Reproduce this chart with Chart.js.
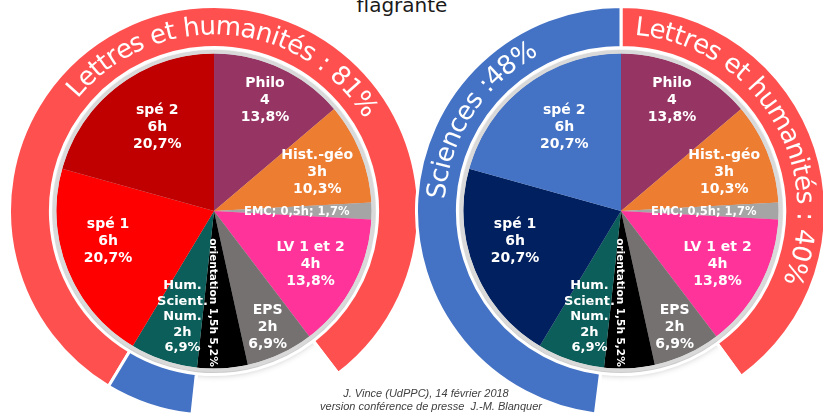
<!DOCTYPE html>
<html lang="fr">
<head>
<meta charset="utf-8">
<title>Répartition horaire – tronc commun et spécialités</title>
<script src="https://cdn.jsdelivr.net/npm/chart.js@4/dist/chart.umd.min.js"></script>
<style>
  html, body { margin: 0; padding: 0; background: #fff; }
  body { width: 823px; height: 414px; position: relative; overflow: hidden; font-family: "DejaVu Sans", Verdana, sans-serif; }
  canvas { position: absolute; }
  #pieLeft { left: 8px; top: 5px; }
  #pieRight { left: 415px; top: 5px; }
  .title { position: absolute; left: 2px; top: -5px; width: 800px; text-align: center; font-size: 20px; line-height: 20px; color: #1a1a1a; }
  .credit { position: absolute; width: 260px; text-align: center; font: italic 11px/14px "Liberation Sans", Arial, sans-serif; color: #404040; white-space: pre; }
</style>
</head>
<body>
<div class="title">flagrante</div>
<canvas id="pieLeft" width="412" height="412"></canvas>
<canvas id="pieRight" width="412" height="412"></canvas>
<div class="credit" style="left:296px; top:386px;">J. Vince (UdPPC), 14 février 2018</div>
<div class="credit" style="left:301px; top:399px;">version conférence de presse  J.-M. Blanquer</div>

<script>
// ---- data ----
const subjects = ['Philo', 'Hist.-géo', 'EMC', 'LV 1 et 2', 'EPS', 'orientation', 'Hum. Scient. Num.', 'spé 1', 'spé 2'];
const hours = [4, 3, 0.5, 4, 2, 1.5, 2, 6, 6];
const hourText = ['4', '3h', '0,5h', '4h', '2h', '1,5h', '2h', '6h', '6h'];

// outer rings: share of the week per family (the middle part is left blank)
const ringNames = ['Lettres et humanités', '', 'Sciences'];
const leftRingValues = [81, 12.1, 6.9];
const rightRingValues = [40, 12, 48];
const leftRingTexts = ['Lettres et humanités : 81%'];
const rightRingTexts = ['Lettres et humanités : 40%', 'Sciences :48%'];

// ---- colours ----
const RED_RING = '#FF5050';
const BLUE_RING = '#4472C4';
const commonColors = ['#963464', '#ED7D31', '#A5A5A5', '#FF3399', '#767171', '#000000', '#0B5E59'];
const leftPieColors = commonColors.concat(['#FF0000', '#C00000']);
const rightPieColors = commonColors.concat(['#002060', '#4472C4']);
const ringColors = [RED_RING, 'rgba(0,0,0,0)', BLUE_RING];

const totalHours = hours.reduce((a, b) => a + b, 0);
const FONT = '"DejaVu Sans", Verdana, sans-serif';

// where a slice label sits: fraction of the pie radius, angle nudge (deg)
const labelSpots = [
    { r: 0.77, da: 0 },
    { r: 0.70, da: 1 },
    { r: 0.525, da: 1, size: 11.5, layout: 'semicolon' },
    { r: 0.70, da: 1 },
    { r: 0.81, da: 0 },
    { r: 0.58, da: 4, size: 10.5, layout: 'inline', rotate: 90 },
    { r: 0.70, da: -2, size: 13, lh: 15.5, layout: 'split' },
    { r: 0.70, da: 5.5 },
    { r: 0.64, da: 3 }
];

function pctText(i) {
    return (hours[i] / totalHours * 100).toFixed(1).replace('.', ',') + '%';
}

function sliceLines(i, layout) {
    if (layout === 'semicolon') return [subjects[i] + '; ' + hourText[i] + '; ' + pctText(i)];
    if (layout === 'inline') return [subjects[i] + ' ' + hourText[i] + ' ' + pctText(i)];
    if (layout === 'split') return subjects[i].split(' ').concat([hourText[i], pctText(i)]);
    return [subjects[i], hourText[i], pctText(i)];
}

// degrees from the top where a given subject starts
function startOf(name) {
    const idx = subjects.indexOf(name);
    const before = hours.slice(0, idx).reduce((a, b) => a + b, 0);
    return before / totalHours * 360;
}

// soft shadow + grey rim behind the pie
const rimShadow = {
    id: 'rimShadow',
    beforeDatasetsDraw(chart) {
        const pie = chart.getDatasetMeta(3).data[0];
        const rim = chart.getDatasetMeta(2).data[0];
        const ctx = chart.ctx;
        ctx.save();
        ctx.shadowColor = 'rgba(0,0,0,0.28)';
        ctx.shadowBlur = 7;
        ctx.shadowOffsetY = 3;
        ctx.fillStyle = '#d9d9d9';
        ctx.beginPath();
        ctx.arc(pie.x, pie.y, rim.outerRadius, 0, Math.PI * 2);
        ctx.fill();
        ctx.restore();
    }
};

// white labels inside each slice
const sliceLabels = {
    id: 'sliceLabels',
    afterDatasetsDraw(chart) {
        const ctx = chart.ctx;
        const arcs = chart.getDatasetMeta(3).data;
        ctx.save();
        ctx.fillStyle = '#fff';
        ctx.textAlign = 'center';
        ctx.textBaseline = 'middle';
        arcs.forEach((arc, i) => {
            const spot = labelSpots[i];
            const size = spot.size || 14;
            const lh = spot.lh || 17;
            const mid = (arc.startAngle + arc.endAngle) / 2 + spot.da * Math.PI / 180;
            const x = arc.x + Math.cos(mid) * arc.outerRadius * spot.r;
            const y = arc.y + Math.sin(mid) * arc.outerRadius * spot.r;
            const lines = sliceLines(i, spot.layout);
            ctx.font = 'bold ' + size + 'px ' + FONT;
            ctx.save();
            ctx.translate(x, y);
            if (spot.rotate) ctx.rotate(spot.rotate * Math.PI / 180);
            lines.forEach((line, k) => {
                ctx.fillText(line, 0, (k - (lines.length - 1) / 2) * lh);
            });
            ctx.restore();
        });
        ctx.restore();
    }
};

// text bent along the outer ring
function ringText(texts, centers) {
    return {
        id: 'ringText',
        afterDatasetsDraw(chart) {
            const ctx = chart.ctx;
            const ring = chart.getDatasetMeta(0).data[0];
            const size = 26;
            const base = ring.innerRadius + 13;
            const rMid = base + size * 0.36;
            ctx.save();
            ctx.font = size + 'px ' + FONT;
            ctx.fillStyle = '#fff';
            ctx.textAlign = 'center';
            ctx.textBaseline = 'alphabetic';
            texts.forEach((text, t) => {
                const chars = Array.from(text);
                const total = ctx.measureText(text).width;
                const start = centers[t] * Math.PI / 180 - total / rMid / 2;
                chars.forEach((ch, k) => {
                    const before = ctx.measureText(chars.slice(0, k).join('')).width;
                    const w = ctx.measureText(ch).width;
                    const ang = start + (before + w / 2) / rMid;
                    ctx.save();
                    ctx.translate(ring.x, ring.y);
                    ctx.rotate(ang);
                    ctx.fillText(ch, 0, -base);
                    ctx.restore();
                });
            });
            ctx.restore();
        }
    };
}

function buildChart(id, ringValues, ringRotation, pieColors, texts, centers) {
    return new Chart(document.getElementById(id), {
        type: 'doughnut',
        data: {
            labels: subjects,
            datasets: [
                {
                    label: 'familles',
                    data: ringValues,
                    backgroundColor: ringColors,
                    borderColor: '#fff',
                    borderWidth: 3,
                    hoverBorderWidth: 3,
                    hoverOffset: 0,
                    rotation: ringRotation,
                    weight: 41
                },
                { label: 'gap', data: [1], backgroundColor: ['rgba(0,0,0,0)'], borderWidth: 0, hoverBorderWidth: 0, hoverOffset: 0, weight: 2.5 },
                { label: 'rim', data: [1], backgroundColor: ['#d9d9d9'], borderWidth: 0, hoverBorderWidth: 0, hoverOffset: 0, weight: 3.5 },
                {
                    label: 'heures',
                    data: hours,
                    backgroundColor: pieColors,
                    borderWidth: 0,
                    hoverBorderWidth: 0,
                    hoverOffset: 0,
                    weight: 158
                }
            ]
        },
        options: {
            responsive: false,
            animation: false,
            events: [],
            cutout: 0,
            layout: { padding: 0 },
            plugins: {
                legend: { display: false },
                tooltip: { enabled: false }
            }
        },
        plugins: [rimShadow, sliceLabels, ringText(texts, centers)]
    });
}

buildChart('pieLeft', leftRingValues, startOf('spé 1'), leftPieColors, leftRingTexts, [4]);
buildChart('pieRight', rightRingValues, startOf('Philo'), rightPieColors, rightRingTexts, [59, 303]);
</script>
</body>
</html>
